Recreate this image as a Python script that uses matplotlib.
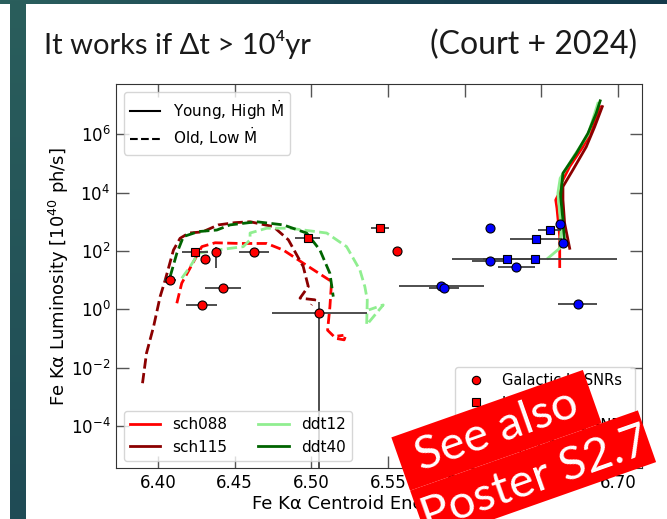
import numpy as np
import matplotlib
matplotlib.use("Agg")
import matplotlib.pyplot as plt
from matplotlib.lines import Line2D
from matplotlib.patches import Rectangle
from matplotlib.colors import LinearSegmentedColormap

# --- model tracks: centroid energy [keV] and Fe Ka luminosity [1e40 ph/s] ---
# old / low Mdot (dashed)
sch088_old_E = [6.4122, 6.4154, 6.4209, 6.4285, 6.4372, 6.4535, 6.4709, 6.4817, 6.4947, 6.5132, 6.5121, 6.5106, 6.5160, 6.5214, 6.5225, 6.5170]
sch088_old_L = [1.6, 7.8, 26, 140, 190, 180, 180, 107, 38, 8.9, 1.2, 0.19, 0.10, 0.089, 0.13, 0.12]
sch115_old_E = [6.3898, 6.3924, 6.3970, 6.4013, 6.4046, 6.4100, 6.4143, 6.4200, 6.4290, 6.4393, 6.4500, 6.4600, 6.4752, 6.4850, 6.4947, 6.4980, 6.4926, 6.5023, 6.5000]
sch115_old_L = [2.9e-3, 3.1e-2, 0.25, 2.7, 10, 107, 270, 410, 450, 780, 930, 1000, 680, 240, 29, 6.0, 2.4, 2.1, 1.4]
ddt12_old_E = [6.4154, 6.4209, 6.4263, 6.4383, 6.4556, 6.4600, 6.4600, 6.4709, 6.4860, 6.5100, 6.5230, 6.5317, 6.5349, 6.5365, 6.5361, 6.5469, 6.5375]
ddt12_old_L = [11.5, 29, 83, 107, 140, 240, 410, 600, 600, 410, 140, 22, 6.0, 2.1, 0.29, 1.4, 0.95]
ddt40_old_E = [6.4078, 6.4122, 6.4165, 6.4263, 6.4383, 6.4469, 6.4643, 6.4817, 6.4969, 6.5056, 6.5121, 6.5143]
ddt40_old_L = [13, 83, 310, 460, 520, 780, 1000, 780, 410, 107, 17, 2.7]

# young / high Mdot (solid)
sch088_young_E = [6.6621, 6.6621, 6.6603, 6.6595, 6.6617, 6.6631, 6.6686, 6.6772, 6.6837, 6.6881]
sch088_young_L = [29, 310, 2900, 5600, 9500, 2.1e4, 7.8e4, 3.7e5, 1.6e6, 8.9e6]
sch115_young_E = [6.6686, 6.6653, 6.6642, 6.6642, 6.6707, 6.6794, 6.6849, 6.6899]
sch115_young_L = [123, 890, 5600, 1.6e4, 6.0e4, 3.7e5, 1.8e6, 8.9e6]
ddt12_young_E = [6.6544, 6.6621, 6.6631, 6.6609, 6.6624, 6.6718, 6.6805, 6.6870]
ddt12_young_L = [56, 123, 520, 9500, 3.1e4, 1.95e5, 9.5e5, 1.15e7]
ddt40_young_E = [6.6653, 6.6642, 6.6627, 6.6642, 6.6729, 6.6805, 6.6859, 6.6885]
ddt40_young_L = [180, 1150, 7200, 4.6e4, 2.2e5, 1.07e6, 5.2e6, 1.4e7]

# --- observed remnants ---
gal_ia_E = [6.4078, 6.4306, 6.4376, 6.4628, 6.4426, 6.4285, 6.5050, 6.5560]
gal_ia_L = [10, 53, 90, 90, 5.2, 1.44, 0.76, 102]
gal_ia_dE = [0.004, 0.0, 0.002, 0.0098, 0.0117, 0.010, 0.031, 0.002]
gal_ia_Llo = [10, 53, 26, 90, 5.2, 1.44, 1e-7, 80]
gal_ia_Lhi = [10, 53, 140, 90, 5.2, 1.44, 1.8, 110]

lmc_ia_E = [6.4241, 6.4976, 6.5447]
lmc_ia_L = [94, 271, 630]
lmc_ia_dE = [0.0084, 0.008, 0.006]

gal_cc_E = [6.6169, 6.6625, 6.6169, 6.6338, 6.5849, 6.5866, 6.6738, 6.6645]
gal_cc_L = [600, 840, 45, 27, 6.3, 5.3, 1.5, 190]
gal_cc_dE = [0.0, 0.003, 0.012, 0.012, 0.028, 0.010, 0.0128, 0.0]

lmc_cc_E = [6.6555, 6.6469, 6.6280, 6.6458]
lmc_cc_L = [520, 251, 52, 53]
lmc_cc_dE = [0.0076, 0.017, 0.016, 0.0537]

models = ["sch088", "sch115", "ddt12", "ddt40"]
colors = {"sch088": "red", "sch115": "darkred", "ddt12": "lightgreen", "ddt40": "darkgreen"}
old_tracks = {"sch088": (sch088_old_E, sch088_old_L), "sch115": (sch115_old_E, sch115_old_L),
              "ddt12": (ddt12_old_E, ddt12_old_L), "ddt40": (ddt40_old_E, ddt40_old_L)}
young_tracks = {"sch088": (sch088_young_E, sch088_young_L), "sch115": (sch115_young_E, sch115_young_L),
                "ddt12": (ddt12_young_E, ddt12_young_L), "ddt40": (ddt40_young_E, ddt40_young_L)}

W, H = 667, 519
fig = plt.figure(figsize=(W / 100, H / 100), dpi=100)
fig.patch.set_facecolor("white")

# slide frame: teal strip along the top and a bar down the left
band = LinearSegmentedColormap.from_list("band", ["#2b605e", "#1a4352", "#143a4b"])
top = fig.add_axes([0, 1 - 4.5 / H, 1, 4.5 / H])
top.imshow(np.linspace(0, 1, 256)[None, :], aspect="auto", cmap=band)
top.axis("off")
side = LinearSegmentedColormap.from_list("side", ["#2a5e5c", "#1f4b55"])
bar = fig.add_axes([10 / W, 0, 16 / W, 1])
bar.imshow(np.linspace(0, 1, 256)[:, None], aspect="auto", cmap=side)
bar.axis("off")

title_font = ["Lato", "DejaVu Sans"]
fig.text(44 / W, 1 - 54 / H, "It works if \u0394t > 10\u2074yr", fontsize=21, family=title_font,
         va="baseline", ha="left", color="#1a1a1a")
fig.text(637 / W, 1 - 54 / H, "(Court + 2024)", fontsize=23, family=title_font,
         va="baseline", ha="right", color="#1a1a1a")

ax = fig.add_axes([116 / W, 1 - 468.3 / H, 526.3 / W, 384.3 / H])

for m in models:
    E, L = old_tracks[m]
    ax.plot(E, L, color=colors[m], lw=2, ls="--", zorder=2)
    E, L = young_tracks[m]
    ax.plot(E, L, color=colors[m], lw=2, ls="-", zorder=2)

ebar = dict(fmt="none", ecolor="#404040", elinewidth=1.3, capsize=0, zorder=3)
gal_ia_yerr = [np.subtract(gal_ia_L, gal_ia_Llo), np.subtract(gal_ia_Lhi, gal_ia_L)]
ax.errorbar(gal_ia_E, gal_ia_L, xerr=gal_ia_dE, yerr=gal_ia_yerr, **ebar)
ax.errorbar(lmc_ia_E, lmc_ia_L, xerr=lmc_ia_dE, **ebar)
ax.errorbar(gal_cc_E, gal_cc_L, xerr=gal_cc_dE, **ebar)
ax.errorbar(lmc_cc_E, lmc_cc_L, xerr=lmc_cc_dE, **ebar)

mk = dict(ls="none", mec="black", mew=0.8, zorder=4)
ax.plot(gal_ia_E, gal_ia_L, marker="o", ms=6.5, mfc="red", **mk)
ax.plot(lmc_ia_E, lmc_ia_L, marker="s", ms=6, mfc="red", **mk)
ax.plot(gal_cc_E, gal_cc_L, marker="o", ms=6.5, mfc="blue", **mk)
ax.plot(lmc_cc_E, lmc_cc_L, marker="s", ms=6, mfc="blue", **mk)

ax.set_xlim(6.3725, 6.716)
ax.set_yscale("log")
ax.set_ylim(3.5e-6, 5.3e7)
ax.set_xticks([6.40, 6.45, 6.50, 6.55, 6.60, 6.65, 6.70])
ax.set_yticks([1e-4, 1e-2, 1e0, 1e2, 1e4, 1e6])
ax.yaxis.set_minor_locator(matplotlib.ticker.NullLocator())
ax.xaxis.set_major_formatter(matplotlib.ticker.FormatStrFormatter("%.2f"))
ax.tick_params(direction="in", length=9, width=1, color="#555555", top=True, right=True,
               labelsize=12, pad=4)
for s in ax.spines.values():
    s.set_color("#333333")
ax.set_xlabel("Fe K\u03b1 Centroid Energy [keV]", fontsize=13, labelpad=2)
ax.set_ylabel("Fe K\u03b1 Luminosity [10$^{40}$ ph/s]", fontsize=13, labelpad=0)

age_handles = [Line2D([], [], color="black", lw=1.5, ls="-"),
               Line2D([], [], color="black", lw=1.5, ls="--")]
leg1 = ax.legend(age_handles, [r"Young, High $\dot{\mathrm{M}}$", r"Old, Low $\dot{\mathrm{M}}$"],
                 loc="upper left", fontsize=11, labelspacing=0.25)
ax.add_artist(leg1)

model_handles = [Line2D([], [], color=colors[m], lw=2) for m in models]
leg2 = ax.legend(model_handles, models, loc="lower left", ncol=2, fontsize=11)
ax.add_artist(leg2)

obs_handles = [Line2D([], [], marker="o", ms=6, mfc="red", ls="none", mec="black", mew=0.8),
               Line2D([], [], marker="s", ms=6, mfc="red", ls="none", mec="black", mew=0.8),
               Line2D([], [], marker="o", ms=6, mfc="blue", ls="none", mec="black", mew=0.8),
               Line2D([], [], marker="s", ms=6, mfc="blue", ls="none", mec="black", mew=0.8)]
ax.legend(obs_handles, ["Galactic Ia SNRs", "LMC Ia SNRs", "Galactic CC SNRs", "LMC CC SNRs"],
          loc="lower right", fontsize=10.5, numpoints=1)

# poster banner, laid out in inches so the rotation stays square
ang = 19.4
fig.add_artist(Rectangle((4.101, 0.284), 2.03, 0.564, angle=ang, transform=fig.dpi_scale_trans,
                         facecolor="#ff0000", edgecolor="none", zorder=10))
fig.add_artist(Rectangle((4.283, -0.233), 2.415, 0.548, angle=ang, transform=fig.dpi_scale_trans,
                         facecolor="#ff0000", edgecolor="none", zorder=10))
fig.text(4.964, 0.887, "See also", transform=fig.dpi_scale_trans, rotation=ang,
         rotation_mode="anchor", ha="center", va="center", color="white",
         fontsize=34, family="Lato", zorder=11)
fig.text(5.35, 0.40, "Poster S2.7", transform=fig.dpi_scale_trans, rotation=ang,
         rotation_mode="anchor", ha="center", va="center", color="white",
         fontsize=34, family="Lato", zorder=11)

fig.savefig("out.png", dpi=100)
